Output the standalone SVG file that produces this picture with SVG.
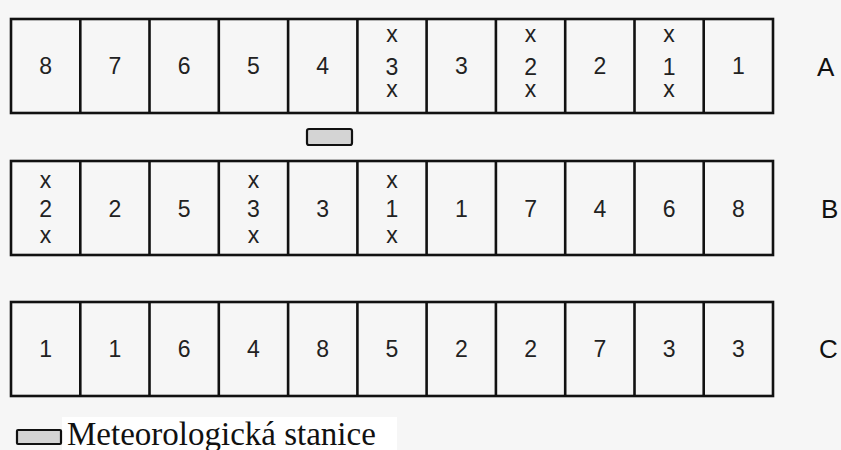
<svg xmlns="http://www.w3.org/2000/svg" width="841" height="450" viewBox="0 0 841 450">
<style>
.cell{fill:none;stroke:#111;stroke-width:2.6}
.n{font-family:"Liberation Sans",Arial,sans-serif;font-size:23px;fill:#222;text-anchor:middle}
.lab{font-family:"Liberation Sans",Arial,sans-serif;font-size:26px;fill:#111}
.st{fill:#d4d4d4;stroke:#111;stroke-width:2.2}
.leg{font-family:"Liberation Serif","Times New Roman",serif;font-size:33px;fill:#111}
</style>
<rect width="841" height="450" fill="#f6f6f6"/>
<rect x="62" y="417" width="335" height="33" fill="#ffffff"/>
<defs>
<g id="row">
<rect class="cell" x="11" y="0" width="762" height="94"/>
<path class="cell" d="M80.3 0V94M149.5 0V94M218.8 0V94M288.1 0V94M357.4 0V94M426.6 0V94M495.9 0V94M565.2 0V94M634.5 0V94M703.7 0V94"/>
</g>
</defs>
<g id="rowA">
<use href="#row" y="19"/>
<text class="n" x="45.6" y="74">8</text>
<text class="n" x="114.9" y="74">7</text>
<text class="n" x="184.2" y="74">6</text>
<text class="n" x="253.5" y="74">5</text>
<text class="n" x="322.7" y="74">4</text>
<text class="n" x="392" y="42">x</text><text class="n" x="392" y="75">3</text><text class="n" x="392" y="97">x</text>
<text class="n" x="461.3" y="74">3</text>
<text class="n" x="530.6" y="42">x</text><text class="n" x="530.6" y="75">2</text><text class="n" x="530.6" y="97">x</text>
<text class="n" x="599.8" y="74">2</text>
<text class="n" x="669.1" y="42">x</text><text class="n" x="669.1" y="75">1</text><text class="n" x="669.1" y="97">x</text>
<text class="n" x="738.4" y="74">1</text>
<text class="lab" x="817" y="76">A</text>
</g>
<g id="rowB">
<use href="#row" y="161"/>
<text class="n" x="45.6" y="188">x</text><text class="n" x="45.6" y="217">2</text><text class="n" x="45.6" y="243">x</text>
<text class="n" x="114.9" y="217">2</text>
<text class="n" x="184.2" y="217">5</text>
<text class="n" x="253.5" y="188">x</text><text class="n" x="253.5" y="217">3</text><text class="n" x="253.5" y="243">x</text>
<text class="n" x="322.7" y="217">3</text>
<text class="n" x="392" y="188">x</text><text class="n" x="392" y="217">1</text><text class="n" x="392" y="243">x</text>
<text class="n" x="461.3" y="217">1</text>
<text class="n" x="530.6" y="217">7</text>
<text class="n" x="599.8" y="217">4</text>
<text class="n" x="669.1" y="217">6</text>
<text class="n" x="738.4" y="217">8</text>
<text class="lab" x="821" y="218">B</text>
</g>
<g id="rowC">
<use href="#row" y="302"/>
<text class="n" x="45.6" y="357">1</text>
<text class="n" x="114.9" y="357">1</text>
<text class="n" x="184.2" y="357">6</text>
<text class="n" x="253.5" y="357">4</text>
<text class="n" x="322.7" y="357">8</text>
<text class="n" x="392" y="357">5</text>
<text class="n" x="461.3" y="357">2</text>
<text class="n" x="530.6" y="357">2</text>
<text class="n" x="599.8" y="357">7</text>
<text class="n" x="669.1" y="357">3</text>
<text class="n" x="738.4" y="357">3</text>
<text class="lab" x="819" y="358">C</text>
</g>
<g id="station">
<rect class="st" x="307" y="129" width="45" height="16" rx="2"/>
</g>
<g id="legend">
<rect class="st" x="17" y="430" width="44" height="14" rx="1"/>
<text class="leg" x="67" y="445">Meteorologická stanice</text>
</g>
</svg>
